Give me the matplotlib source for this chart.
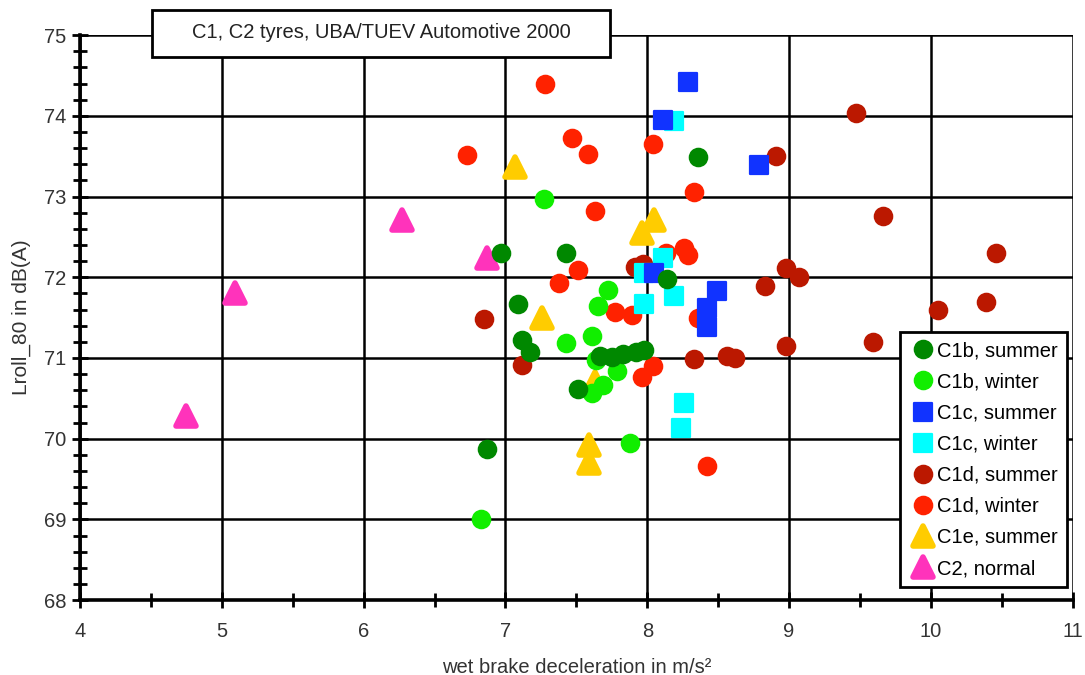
import matplotlib.pyplot as plt
from matplotlib.markers import MarkerStyle
from matplotlib.patches import Rectangle
from matplotlib.ticker import MultipleLocator

plt.rcParams['font.family'] = ['Liberation Sans', 'DejaVu Sans']

# wet brake deceleration (m/s^2) and rolling noise Lroll_80 (dB(A)) per tyre group
c1b_summer_x = [6.97, 7.43, 8.36, 8.14, 7.09, 7.12, 7.17, 7.51, 6.87, 7.67, 7.75, 7.83, 7.92, 7.98]
c1b_summer_y = [72.30, 72.30, 73.49, 71.98, 71.67, 71.22, 71.07, 70.61, 69.87, 71.02, 71.01, 71.05, 71.07, 71.10]
c1b_winter_x = [7.27, 7.72, 7.65, 7.43, 7.61, 7.64, 7.79, 7.69, 7.61, 7.88, 6.83]
c1b_winter_y = [72.97, 71.84, 71.64, 71.18, 71.27, 70.97, 70.84, 70.66, 70.56, 69.94, 69.01]
c1c_summer_x = [8.29, 8.11, 8.79, 8.05, 8.49, 8.42, 8.42]
c1c_summer_y = [74.42, 73.95, 73.39, 72.05, 71.83, 71.62, 71.38]
c1c_winter_x = [8.19, 8.11, 7.98, 7.98, 8.19, 8.26, 8.24]
c1c_winter_y = [73.93, 72.24, 72.05, 71.67, 71.77, 70.44, 70.13]
c1d_summer_x = [9.47, 8.91, 9.66, 10.46, 8.98, 9.07, 8.83, 10.05, 10.39, 8.98, 9.59,
                6.85, 7.12, 8.33, 8.56, 8.62, 7.91, 7.97]
c1d_summer_y = [74.03, 73.50, 72.76, 72.30, 72.12, 72.00, 71.89, 71.60, 71.69, 71.15, 71.20,
                71.48, 70.91, 70.99, 71.02, 71.00, 72.13, 72.17]
c1d_winter_x = [7.28, 6.73, 7.47, 7.58, 8.04, 8.33, 7.63, 8.26, 8.29, 7.51, 7.38, 7.77,
                7.89, 8.04, 7.96, 8.42, 8.13, 8.36]
c1d_winter_y = [74.39, 73.51, 73.72, 73.53, 73.65, 73.05, 72.82, 72.36, 72.27, 72.09, 71.93,
                71.57, 71.53, 70.90, 70.76, 69.66, 72.30, 71.50]
c1e_summer_x = [7.07, 8.05, 7.96, 7.26, 7.59, 7.59, 7.63]
c1e_summer_y = [73.36, 72.71, 72.55, 71.49, 69.92, 69.70, 70.70]
c2_normal_x = [4.75, 5.09, 6.27, 6.87]
c2_normal_y = [70.28, 71.80, 72.71, 72.24]

series = [
    ('C1b, summer', c1b_summer_x, c1b_summer_y, 'o', '#008800'),
    ('C1b, winter', c1b_winter_x, c1b_winter_y, 'o', '#11EE00'),
    ('C1c, summer', c1c_summer_x, c1c_summer_y, 's', '#1133FF'),
    ('C1c, winter', c1c_winter_x, c1c_winter_y, 's', '#00FFFF'),
    ('C1d, summer', c1d_summer_x, c1d_summer_y, 'o', '#BB1800'),
    ('C1d, winter', c1d_winter_x, c1d_winter_y, 'o', '#FF2200'),
    ('C1e, summer', c1e_summer_x, c1e_summer_y, '^', '#FFCC00'),
    ('C2, normal', c2_normal_x, c2_normal_y, '^', '#FF33BB'),
]

fig = plt.figure(figsize=(10.85, 6.75), dpi=100)
ax = fig.add_axes([0.0737, 0.111, 0.915, 0.837])

n = len(series)
for i, (label, xs, ys, m, c) in enumerate(series):
    if m == '^':
        ms, mew = 14, 4.0
    else:
        ms, mew = 12.5, 1.6
    ax.plot(xs, ys, linestyle='none', marker=MarkerStyle(m, joinstyle='round'),
            markersize=ms, markerfacecolor=c, markeredgecolor=c, markeredgewidth=mew,
            label=label, zorder=10 + n - i)

ax.set_xlim(4, 11)
ax.set_ylim(68, 75)
ax.xaxis.set_major_locator(MultipleLocator(1))
ax.xaxis.set_minor_locator(MultipleLocator(0.5))
ax.yaxis.set_major_locator(MultipleLocator(1))
ax.yaxis.set_minor_locator(MultipleLocator(0.2))
ax.grid(True, which='major', color='black', linewidth=1.8, zorder=1)
ax.set_axisbelow(True)

for side in ['top', 'right']:
    ax.spines[side].set_visible(False)
for side in ['left', 'bottom']:
    ax.spines[side].set_linewidth(2.6)
    ax.spines[side].set_zorder(30)

ax.tick_params(axis='both', which='major', direction='inout', length=12, width=2,
               labelsize=14.5, colors='black')
ax.tick_params(axis='x', which='major', pad=10)
ax.tick_params(axis='y', which='major', pad=4)
ax.tick_params(axis='both', which='minor', direction='inout', length=10, width=2)

ax.set_xlabel('wet brake deceleration in m/s²', fontsize=14.5, color='#333333', labelpad=12)
ax.set_ylabel('Lroll_80 in dB(A)', fontsize=15, color='#333333', labelpad=9)
for lab in ax.get_xticklabels() + ax.get_yticklabels():
    lab.set_color('#333333')

leg = ax.legend(loc='lower right', bbox_to_anchor=(0.994, 0.023), fontsize=14.5,
                frameon=True, fancybox=False, framealpha=1, edgecolor='black',
                handletextpad=0.0, handlelength=1.4, labelspacing=0.6,
                borderpad=0.45, borderaxespad=0)
leg.get_frame().set_linewidth(2)
leg.set_zorder(40)

fig.patches.append(Rectangle((152 / 1085, 1 - 57 / 675), 458 / 1085, 47 / 675,
                             transform=fig.transFigure, facecolor='white',
                             edgecolor='black', linewidth=2, zorder=50))
fig.text(381 / 1085, 1 - 33 / 675, 'C1, C2 tyres, UBA/TUEV Automotive 2000',
         ha='center', va='center', fontsize=14.5, color='#222222', zorder=51)

fig.savefig('out.png', dpi=100)
